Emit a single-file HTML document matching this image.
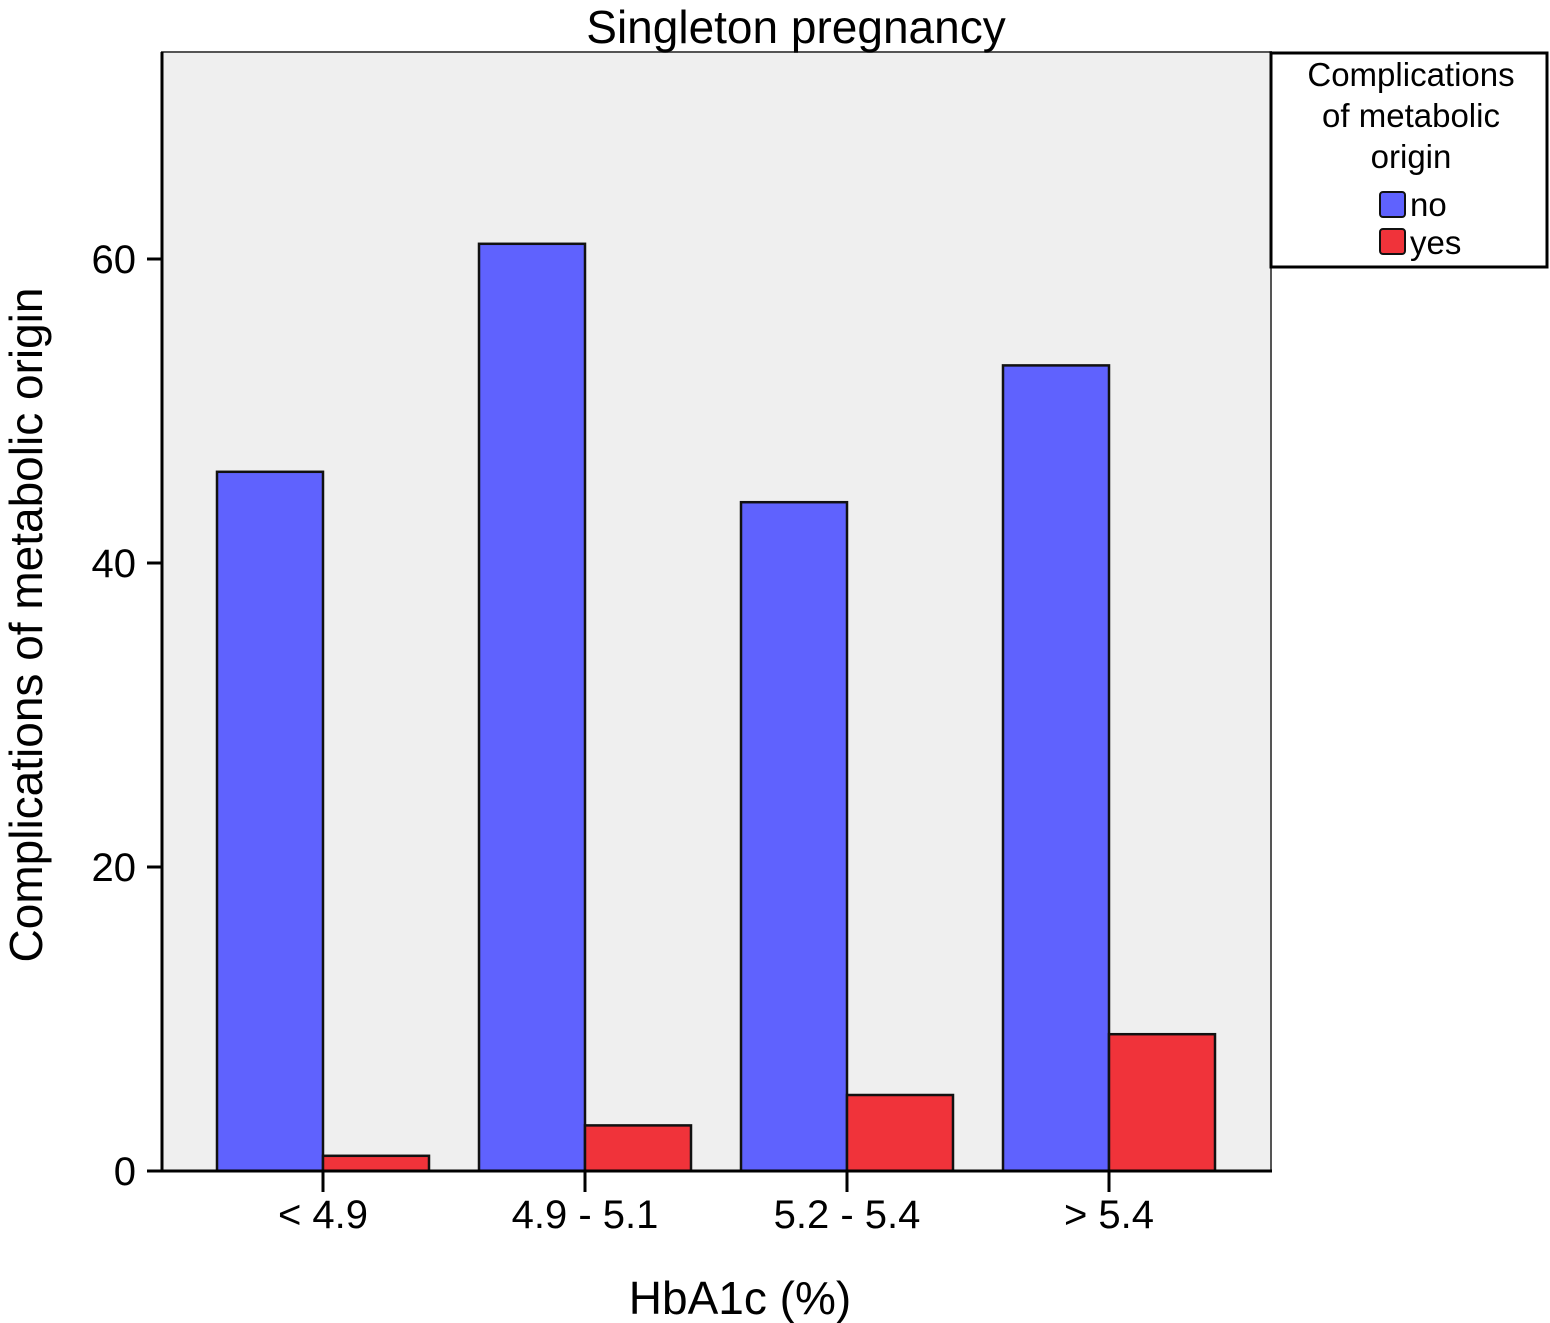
<!DOCTYPE html>
<html><head><meta charset="utf-8"><style>
body{margin:0;background:#fff;}
svg{display:block;font-family:"Liberation Sans",Arial,sans-serif;}
</style></head><body>
<svg id="chart" width="1550" height="1323" viewBox="0 0 1550 1323">
<rect x="162" y="52" width="1109" height="1119" fill="#efefef" stroke="#555" stroke-width="2"/>
<text x="796" y="43" font-size="46" text-anchor="middle">Singleton pregnancy</text>
<text x="740" y="1314" font-size="46" text-anchor="middle">HbA1c (%)</text>
<text transform="translate(42,625) rotate(-90)" font-size="46" text-anchor="middle">Complications of metabolic origin</text>
<g id="bars"></g>
<g id="axes"></g>
<g>
<rect x="1271" y="53" width="276" height="214" fill="#fff" stroke="#000" stroke-width="3"/>
<text x="1411" y="86" font-size="33" text-anchor="middle"><tspan x="1411">Complications</tspan><tspan x="1411" dy="41">of metabolic</tspan><tspan x="1411" dy="41">origin</tspan></text>
<rect x="1380" y="192" width="25" height="25" rx="3" fill="#5f62fe" stroke="#111" stroke-width="2"/>
<text x="1410" y="216" font-size="33">no</text>
<rect x="1380" y="229" width="25" height="25" rx="3" fill="#f0333a" stroke="#111" stroke-width="2"/>
<text x="1410" y="254" font-size="33">yes</text>
</g>
</svg>
<script>
const categories=["< 4.9","4.9 - 5.1","5.2 - 5.4","> 5.4"];
const noValues=[46,61,44,53];
const yesValues=[1,3,5,9];
const yTicks=[0,20,40,60];
const NS="http://www.w3.org/2000/svg";
const y0=1171, pxPerUnit=15.2;
function yScale(v){return y0-v*pxPerUnit;}
function xCenter(i){return 323+262*i;}
const barW=106;
const bars=document.getElementById('bars');
const axes=document.getElementById('axes');
function mk(tag,attrs,parent){const e=document.createElementNS(NS,tag);for(const k in attrs)e.setAttribute(k,attrs[k]);parent.appendChild(e);return e;}
categories.forEach((c,i)=>{
  const cx=xCenter(i);
  const b1=mk('rect',{x:cx-barW,y:yScale(noValues[i]),width:barW,height:y0-yScale(noValues[i]),fill:'#5f62fe',stroke:'#111','stroke-width':2.5},bars);
  
  
  const b2=mk('rect',{x:cx,y:yScale(yesValues[i]),width:barW,height:y0-yScale(yesValues[i]),fill:'#f0333a',stroke:'#111','stroke-width':2.5},bars);
  
  
  const t=mk('line',{x1:cx,x2:cx,y1:y0,y2:y0+21,stroke:'#000','stroke-width':3},axes);
  
  
  const l=mk('text',{x:cx,y:1228,'font-size':40,'text-anchor':'middle'},axes);
  l.textContent=c;
  
  
});
yTicks.forEach(v=>{
  const y=yScale(v);
  const t=mk('line',{x1:147,x2:162,y1:y,y2:y,stroke:'#000','stroke-width':3},axes);
  
  
  const l=mk('text',{x:136,y:y+14,'font-size':40,'text-anchor':'end'},axes);
  l.textContent=v;
  
  
});
const ax=mk('line',{x1:162,x2:162,y1:52,y2:y0+1,stroke:'#000','stroke-width':3},axes);


const bx=mk('line',{x1:147,x2:1272,y1:y0,y2:y0,stroke:'#000','stroke-width':3},axes);


</script>
</body></html>
